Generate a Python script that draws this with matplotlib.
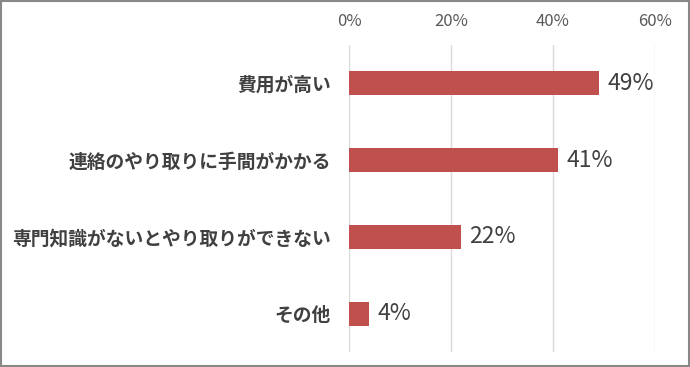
import matplotlib.pyplot as plt
import numpy as np
from matplotlib.patches import Rectangle

plt.rcParams['font.family'] = ['Noto Sans CJK JP', 'DejaVu Sans']

# データ
categories = ['費用が高い', '連絡のやり取りに手間がかかる', '専門知識がないとやり取りができない', 'その他']
values = [49, 41, 22, 4]
xticks = [0, 20, 40, 60]

fig = plt.figure(figsize=(6.9, 3.67), dpi=100)
ax = fig.add_axes([349/690, 1 - 352/367, 306/690, 307/367])

y = np.arange(len(categories))
ax.barh(y, values, height=0.31, color='#C0504D', zorder=3)

# 値ラベル
for yi, v in zip(y, values):
    ax.annotate(f'{v}%', (v, yi), xytext=(6, 0), textcoords='offset points',
                va='center', ha='left', fontsize=16.5, color='#404040')

ax.set_xlim(0, 60)
ax.set_ylim(len(categories) - 0.5, -0.5)
ax.set_xticks(xticks)
ax.set_xticklabels([f'{t}%' for t in xticks], fontsize=12, color='#595959')
ax.xaxis.tick_top()
ax.tick_params(axis='x', length=0, pad=11)
ax.set_yticks(y)
ax.set_yticklabels(categories, fontsize=13.5, fontweight='bold', color='#404040')
ax.tick_params(axis='y', length=0, pad=13)
ax.grid(axis='x', color='#D9D9D9', linewidth=1, zorder=0)
for s in ax.spines.values():
    s.set_visible(False)

# 外枠
fig.patches.append(Rectangle((0.001, 0.002), 0.997, 0.995, transform=fig.transFigure,
                             fill=False, edgecolor='#888888', linewidth=1.5))

fig.savefig('out.png', dpi=100)
